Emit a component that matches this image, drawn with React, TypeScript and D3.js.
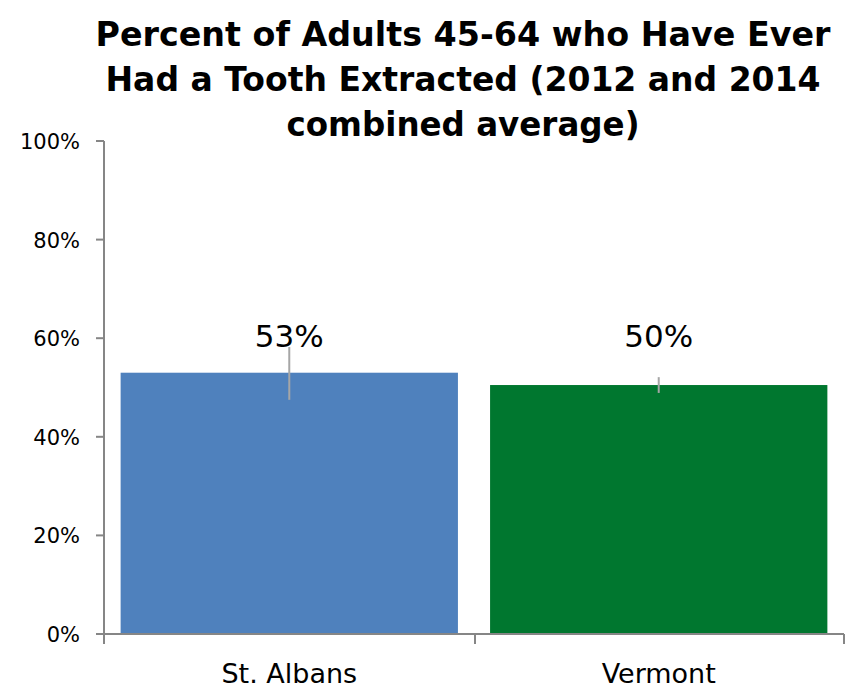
import React from "react";
import * as d3 from "d3";

const categories = ["St. Albans", "Vermont"];
const values = [53, 50.5];
const errLow = [47.5, 48.9];
const errHigh = [58.2, 52.1];
const valueLabels = ["53%", "50%"];
const colors = ["#4F81BD", "#00772F"];
const yTicks = [0, 20, 40, 60, 80, 100];
const titleLines = [
  "Percent of Adults 45-64 who Have Ever",
  "Had a Tooth Extracted (2012 and 2014",
  "combined average)",
];
const titleWidths = [735, 715, 353];

export default function App() {
  const W = 850, H = 689;
  const left = 104, right = 844, top = 141, bottom = 634;
  const x = d3.scaleBand().domain(categories).range([left, right]).paddingInner(0.087).paddingOuter(0.045);
  const y = d3.scaleLinear().domain([0, 100]).range([bottom, top]);
  const font = "'DejaVu Sans', Arial, sans-serif";
  return (
    <svg width={W} height={H} style={{ position: "absolute", left: 0, top: 0 }} fontFamily={font}>
      {titleLines.map((t, i) => (
        <text key={i} x={463} y={46 + i * 45} textAnchor="middle" fontSize={33} fontWeight="bold" fill="#000"
          textLength={titleWidths[i]} lengthAdjust="spacingAndGlyphs">{t}</text>
      ))}
      {categories.map((c, i) => {
        const bx = x(c)!;
        const cx = bx + x.bandwidth() / 2;
        return (
          <g key={c}>
            <rect x={bx} y={y(values[i])} width={x.bandwidth()} height={bottom - y(values[i])} fill={colors[i]} />
            <line x1={cx} x2={cx} y1={y(errHigh[i])} y2={y(errLow[i])} stroke="#A6A6A6" strokeWidth={2} />
            <text x={cx} y={347} textAnchor="middle" fontSize={31} fill="#000">{valueLabels[i]}</text>
            <text x={cx} y={683} textAnchor="middle" fontSize={27} fill="#000">{c}</text>
          </g>
        );
      })}
      <line x1={left} x2={left} y1={top} y2={bottom + 10} stroke="#868686" strokeWidth={2} />
      {yTicks.map((t) => (
        <g key={t}>
          <line x1={left - 8} x2={left} y1={y(t)} y2={y(t)} stroke="#868686" strokeWidth={2} />
          <text x={80} y={y(t) + 8} textAnchor="end" fontSize={21} fill="#000">{t}%</text>
        </g>
      ))}
      <line x1={left} x2={right} y1={bottom} y2={bottom} stroke="#868686" strokeWidth={2} />
      {[left, (left + right) / 2 + 1, right].map((px, i) => (
        <line key={i} x1={px} x2={px} y1={bottom} y2={bottom + 10} stroke="#868686" strokeWidth={2} />
      ))}
    </svg>
  );
}
